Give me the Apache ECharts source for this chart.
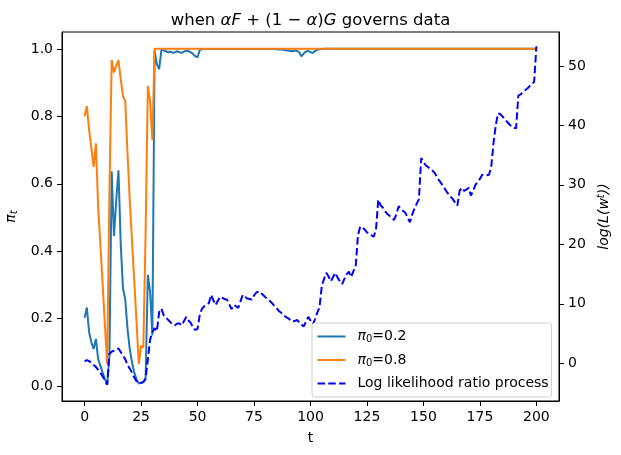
<!DOCTYPE html>
<html>
<head>
<meta charset="utf-8">
<script src="https://cdn.jsdelivr.net/npm/echarts@6/dist/echarts.min.js"></script>
<style>
  html, body { margin: 0; padding: 0; background: #fff; }
  #chart { width: 621px; height: 455px; }
</style>
</head>
<body>
<div id="chart"></div>
<script>
// time index
const tValues = Array.from({ length: 201 }, (_, i) => i);

// pi_t with prior 0.2
const piLow = [
  0.203, 0.233, 0.16, 0.13, 0.11, 0.14, 0.08, 0.06, 0.04, 0.02,
  0.006, 0.09, 0.637, 0.445, 0.55, 0.64, 0.42, 0.29, 0.257, 0.17,
  0.11, 0.07, 0.04, 0.02, 0.008, 0.01, 0.012, 0.02, 0.33, 0.28,
  0.15, 0.995, 0.955, 0.94, 0.997, 0.996, 0.993, 0.99, 0.992, 0.988,
  0.99, 0.993, 0.99, 0.988, 0.992, 0.995, 0.993, 0.99, 0.985, 0.978,
  0.975, 0.997, 0.999, 0.9995, 0.9996, 0.9997, 0.9999, 0.9998, 0.9996, 0.9998,
  0.9999, 0.9998, 0.9998, 0.9998, 0.9996, 0.9995, 0.9996, 0.9996, 0.9995, 0.9997,
  0.9999, 0.9998, 0.9998, 0.9998, 0.9998, 0.9999, 0.9999, 0.9999, 0.9999, 0.9999,
  0.9998, 0.9998, 0.9997, 0.9996, 0.9995, 0.999, 0.998, 0.998, 0.997, 0.996,
  0.995, 0.994, 0.993, 0.995, 0.994, 0.99, 0.978, 0.986, 0.992, 0.994,
  0.99, 0.988, 0.994, 0.997, 0.999, 0.9998, 1, 1, 1, 1,
  1, 1, 1, 1, 1, 1, 1, 1, 1, 1,
  1, 1, 1, 1, 1, 1, 1, 1, 1, 1,
  1, 1, 1, 1, 1, 1, 1, 1, 1, 1,
  1, 1, 1, 1, 1, 1, 1, 1, 1, 1,
  1, 1, 1, 1, 1, 1, 1, 1, 1, 1,
  1, 1, 1, 1, 1, 1, 1, 1, 1, 1,
  1, 1, 1, 1, 1, 1, 1, 1, 1, 1,
  1, 1, 1, 1, 1, 1, 1, 1, 1, 1,
  1, 1, 1, 1, 1, 1, 1, 1, 1, 1,
  1
];

// pi_t with prior 0.8
const piHigh = [
  0.80, 0.83, 0.76, 0.705, 0.65, 0.72, 0.53, 0.42, 0.30, 0.18,
  0.065, 0.58, 0.967, 0.93, 0.95, 0.967, 0.91, 0.86, 0.845, 0.69,
  0.55, 0.43, 0.31, 0.19, 0.065, 0.12, 0.115, 0.45, 0.89, 0.845,
  0.73, 1, 1, 1, 1, 1, 1, 1, 1, 1,
  1, 1, 1, 1, 1, 1, 1, 1, 1, 1,
  1, 1, 1, 1, 1, 1, 1, 1, 1, 1,
  1, 1, 1, 1, 1, 1, 1, 1, 1, 1,
  1, 1, 1, 1, 1, 1, 1, 1, 1, 1,
  1, 1, 1, 1, 1, 1, 1, 1, 1, 1,
  1, 1, 1, 1, 1, 1, 1, 1, 1, 1,
  1, 1, 1, 1, 1, 1, 1, 1, 1, 1,
  1, 1, 1, 1, 1, 1, 1, 1, 1, 1,
  1, 1, 1, 1, 1, 1, 1, 1, 1, 1,
  1, 1, 1, 1, 1, 1, 1, 1, 1, 1,
  1, 1, 1, 1, 1, 1, 1, 1, 1, 1,
  1, 1, 1, 1, 1, 1, 1, 1, 1, 1,
  1, 1, 1, 1, 1, 1, 1, 1, 1, 1,
  1, 1, 1, 1, 1, 1, 1, 1, 1, 1,
  1, 1, 1, 1, 1, 1, 1, 1, 1, 1,
  1, 1, 1, 1, 1, 1, 1, 1, 1, 1,
  1
];

// log likelihood ratio process
const logLR = [
  0.3, 0.55, 0.35, 0.1, -0.3, -0.6, -1.1, -1.6, -2.2, -2.9,
  -3.6, 1.6, 1.95, 2.1, 2.3, 2.5, 1.9, 1.3, 0.7, -0.3,
  -0.9, -1.6, -2.4, -3.0, -3.35, -3.3, -3.15, -2.5, 0.6, 4.0,
  5.2, 5.9, 5.4, 8.6, 9.2, 8.1, 7.7, 7.3, 6.9, 6.5,
  6.4, 6.7, 6.7, 6.4, 7.1, 7.8, 7.2, 6.8, 6.0, 5.6,
  5.8, 8.2, 9.2, 9.6, 9.9, 10.1, 11.5, 10.6, 9.8, 10.5,
  11.2, 11.0, 10.8, 10.7, 10.0, 9.1, 9.8, 9.6, 9.3, 10.4,
  11.5, 11.2, 10.9, 10.8, 10.7, 11.4, 11.9, 12.1, 11.8, 11.5,
  11.1, 10.8, 10.5, 10.1, 9.6, 9.3, 8.8, 8.5, 8.2, 7.8,
  7.6, 7.3, 7.0, 7.1, 7.3, 6.9, 6.5, 6.2, 7.0, 7.8,
  7.2, 6.5, 7.4, 8.5, 9.4, 13.0, 14.2, 15.2, 14.6, 13.8,
  14.5, 15.2, 14.4, 13.8, 13.3, 14.2, 15.0, 15.4, 14.5, 15.5,
  16.3, 21.5, 23.0, 22.8, 22.5, 22.0, 21.7, 21.5, 21.3, 22.5,
  27.5, 26.6, 26.2, 25.6, 25.1, 24.8, 24.5, 24.1, 25.0, 26.4,
  26.0, 25.6, 25.3, 24.5, 23.7, 25.0, 26.0, 26.8, 27.6, 34.5,
  33.8, 33.3, 33.0, 32.7, 32.4, 32.0, 31.3, 30.7, 30.2, 29.6,
  29.0, 28.5, 28.0, 27.6, 27.0, 26.5, 29.0, 29.5, 29.0, 29.2,
  29.5, 28.2, 29.0, 30.0, 30.5, 31.0, 31.7, 31.6, 31.6, 31.7,
  33.0, 37.0, 40.0, 42.0, 41.9, 41.5, 41.0, 40.6, 40.2, 39.8,
  39.6, 39.5, 45.0, 45.2, 45.6, 45.9, 46.2, 46.6, 47.0, 47.3,
  53.3
];

const xTicks = [0, 25, 50, 75, 100, 125, 150, 175, 200];
const leftTicks = [0, 0.2, 0.4, 0.6, 0.8, 1.0];
const rightTicks = [0, 10, 20, 30, 40, 50];

const FONT = 'DejaVu Sans';
const chart = echarts.init(document.getElementById('chart'), null, { renderer: 'canvas' });

const axisCommon = {
  axisLine: { show: true, onZero: false, lineStyle: { color: '#000', width: 1 } },
  axisTick: { show: true, length: 5, lineStyle: { color: '#000', width: 1 } },
  splitLine: { show: false },
  axisLabel: { color: '#000', fontFamily: FONT, fontSize: 14, margin: 9 }
};

// legend names with subscript zero
const legendName = (name) => {
  if (name.startsWith('π')) {
    return '{i|π}{s|0}{n|' + name.slice(2) + '}';
  }
  return '{f|' + name + '}';
};

chart.setOption({
  animation: false,
  title: {
    text: '{n|when }{i|αF}{n| + (1 − }{i|α}{n|)}{i|G}{n| governs data}',
    left: 'center',
    top: 7,
    textStyle: {
      rich: {
        n: { fontFamily: FONT, fontSize: 16.5, fontWeight: 'normal', color: '#000' },
        i: { fontFamily: FONT, fontSize: 16.5, fontWeight: 'normal', fontStyle: 'italic', color: '#000' }
      }
    }
  },
  grid: {
    left: 62, right: 62, top: 32, bottom: 54,
    outerBoundsMode: 'none',
    show: true, borderColor: '#000', borderWidth: 1
  },
  legend: {
    orient: 'vertical',
    left: 312,
    top: 323,
    itemWidth: 28,
    itemHeight: 14,
    itemGap: 8.5,
    padding: [6.5, 3, 6.5, 4.5],
    backgroundColor: '#fff',
    borderColor: '#cccccc',
    borderWidth: 1,
    borderRadius: 3,
    itemStyle: { opacity: 0 },
    formatter: legendName,
    textStyle: {
      rich: {
        n: { fontFamily: FONT, fontSize: 14, color: '#000' },
        f: { fontFamily: FONT, fontSize: 14, color: '#000', padding: [0, 0, 0, 7] },
        i: { fontFamily: FONT, fontSize: 14, fontStyle: 'italic', color: '#000', padding: [0, 0, 0, 7] },
        s: { fontFamily: FONT, fontSize: 10, color: '#000', verticalAlign: 'bottom', padding: [6, 0, 0, 0] }
      }
    },
    data: ['π0=0.2', 'π0=0.8', 'Log likelihood ratio process']
  },
  xAxis: {
    type: 'value',
    min: -10,
    max: 210,
    name: 't',
    nameLocation: 'middle',
    nameGap: 30,
    nameTextStyle: { fontFamily: FONT, fontSize: 14, color: '#000' },
    ...axisCommon,
    axisTick: { ...axisCommon.axisTick, customValues: xTicks },
    axisLabel: { ...axisCommon.axisLabel, customValues: xTicks }
  },
  yAxis: [
    {
      type: 'value',
      min: -0.044,
      max: 1.05,
      name: '{i|π}{s|t}',
      nameLocation: 'middle',
      nameRotate: 90,
      nameGap: 42,
      nameTextStyle: {
        rich: {
          i: { fontFamily: FONT, fontSize: 14, fontStyle: 'italic', color: '#000' },
          s: { fontFamily: FONT, fontSize: 10, fontStyle: 'italic', color: '#000', verticalAlign: 'bottom', padding: [6, 0, 0, 0] }
        }
      },
      ...axisCommon,
      axisTick: { ...axisCommon.axisTick, customValues: leftTicks },
      axisLabel: { ...axisCommon.axisLabel, customValues: leftTicks, formatter: v => v.toFixed(1) }
    },
    {
      type: 'value',
      position: 'right',
      min: -6.34,
      max: 55.7,
      name: '{i|log(L(w}{sup|t}{i|))}',
      nameLocation: 'middle',
      nameRotate: 90,
      nameGap: 36,
      nameTextStyle: {
        rich: {
          i: { fontFamily: FONT, fontSize: 14, fontStyle: 'italic', color: '#000' },
          sup: { fontFamily: FONT, fontSize: 10, fontStyle: 'italic', color: '#000', verticalAlign: 'top', padding: [0, 0, 6, 0] }
        }
      },
      ...axisCommon,
      axisTick: { ...axisCommon.axisTick, customValues: rightTicks },
      axisLabel: { ...axisCommon.axisLabel, customValues: rightTicks }
    }
  ],
  series: [
    {
      name: 'π0=0.2',
      type: 'line',
      yAxisIndex: 0,
      symbol: 'none',
      color: '#1f77b4',
      lineStyle: { width: 2, color: '#1f77b4' },
      data: tValues.map((t, i) => [t, piLow[i]])
    },
    {
      name: 'π0=0.8',
      type: 'line',
      yAxisIndex: 0,
      symbol: 'none',
      color: '#ff7f0e',
      lineStyle: { width: 2, color: '#ff7f0e' },
      data: tValues.map((t, i) => [t, piHigh[i]])
    },
    {
      name: 'Log likelihood ratio process',
      type: 'line',
      yAxisIndex: 1,
      symbol: 'none',
      color: '#0000ff',
      lineStyle: { width: 2, color: '#0000ff', type: [7.5, 3.3] },
      data: tValues.map((t, i) => [t, logLR[i]])
    }
  ]
});
</script>
</body>
</html>
